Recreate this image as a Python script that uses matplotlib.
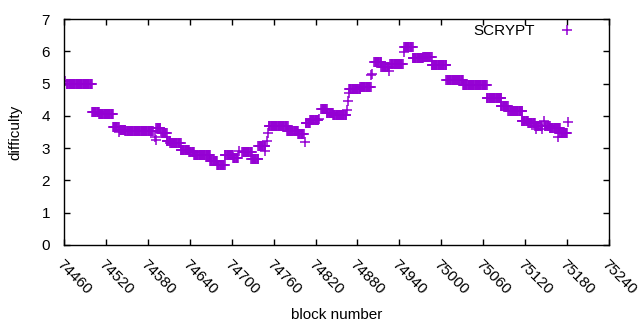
import numpy as np
import matplotlib
matplotlib.use('Agg')
import matplotlib.pyplot as plt

# Plateaus of constant difficulty: first block, last block, value
seg_start = [74464, 74500, 74510, 74530, 74540, 74548, 74592, 74599, 74607, 74612,
             74627, 74639, 74646, 74669, 74679, 74690, 74702, 74715, 74728, 74738,
             74753, 74779, 74795, 74806, 74812, 74828, 74836, 74845, 74868, 74884,
             74904, 74914, 74927, 74947, 74959, 74974, 74986, 75007, 75031, 75065,
             75085, 75096, 75115, 75124, 75134, 75148, 75155, 75169]
seg_end = [74500, 74510, 74530, 74538, 74548, 74587, 74598, 74607, 74612, 74627,
           74639, 74646, 74669, 74679, 74690, 74702, 74709, 74729, 74738, 74748,
           74780, 74795, 74803, 74812, 74824, 74836, 74845, 74864, 74884, 74899,
           74914, 74925, 74945, 74959, 74974, 74986, 75007, 75031, 75065, 75086,
           75095, 75116, 75124, 75134, 75144, 75155, 75170, 75179]
seg_value = [4.98, 4.13, 4.05, 3.64, 3.57, 3.53, 3.63, 3.47, 3.22, 3.15,
             2.93, 2.87, 2.79, 2.61, 2.47, 2.78, 2.68, 2.87, 2.65, 3.08,
             3.69, 3.54, 3.43, 3.79, 3.86, 4.20, 4.10, 4.02, 4.84, 4.89,
             5.68, 5.52, 5.60, 6.12, 5.78, 5.82, 5.57, 5.10, 4.95, 4.54,
             4.30, 4.14, 3.85, 3.77, 3.69, 3.69, 3.61, 3.46]

# Isolated blocks between plateaus
single_block = [74462, 74539, 74590, 74592, 74710, 74748, 74750, 74752, 74805, 74825,
                74865, 74867, 74868, 74900, 74901, 74925, 74947, 75136, 75144, 75147,
                75167, 75180, 75181]
single_value = [5.08, 3.50, 3.33, 3.25, 2.90, 2.90, 3.22, 3.47, 3.18, 3.90,
                4.19, 4.47, 4.70, 5.28, 5.30, 5.38, 5.97, 3.60, 3.60, 3.85,
                3.33, 3.47, 3.80]

x_ticks = list(range(74460, 75241, 60))

blocks = list(single_block)
diffs = list(single_value)
for s, e, v in zip(seg_start, seg_end, seg_value):
    for b in range(s, e + 1):
        blocks.append(b)
        diffs.append(v)

plt.rcParams['font.family'] = ['Liberation Sans', 'DejaVu Sans']
plt.rcParams['font.size'] = 11

fig = plt.figure(figsize=(6.4, 3.3), dpi=100)
ax = fig.add_axes([0.1, 0.2576, 0.8516, 0.6848])

ax.plot(blocks, diffs, '+', color='#9400d3', markersize=6.5, markeredgewidth=1.1,
        linestyle='none', label='SCRYPT')

ax.set_xlim(74460, 75240)
ax.set_ylim(0, 7)
ax.set_xticks(x_ticks)
ax.set_xticklabels([str(t) for t in x_ticks], rotation=-45, ha='left', va='top',
                   rotation_mode='anchor')
ax.set_yticks(range(0, 8))
ax.tick_params(direction='in', length=4, width=1, top=True, right=True,
               labelsize=11, colors='black')
ax.tick_params(axis='y', pad=10)
ax.tick_params(axis='x', pad=9)
for sp in ax.spines.values():
    sp.set_linewidth(1)

ax.set_xlabel('block number', fontsize=11, labelpad=8)
ax.set_ylabel('difficulty', fontsize=11, labelpad=14)

ax.legend(loc='upper right', frameon=False, markerfirst=False, handlelength=2.0,
          handletextpad=1.1, borderaxespad=0.2, borderpad=0.2, fontsize=11,
          bbox_to_anchor=(0.962, 1.005))

fig.savefig('out.png', dpi=100)
